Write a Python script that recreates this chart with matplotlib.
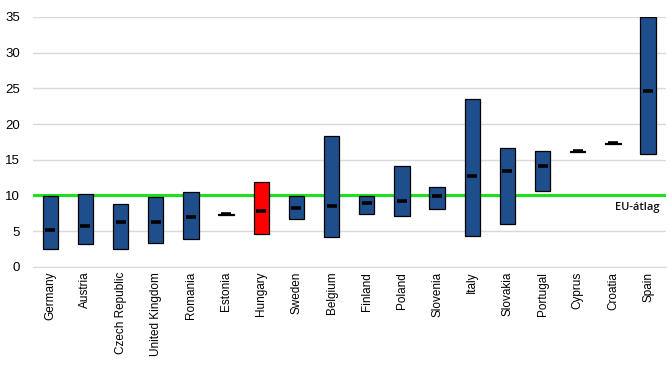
import matplotlib
matplotlib.use("Agg")
import matplotlib.pyplot as plt
import numpy as np

plt.rcParams['font.family'] = ['Liberation Sans', 'DejaVu Sans']

# data
countries = ["Germany", "Austria", "Czech Republic", "United Kingdom", "Romania",
             "Estonia", "Hungary", "Sweden", "Belgium", "Finland", "Poland",
             "Slovenia", "Italy", "Slovakia", "Portugal", "Cyprus", "Croatia", "Spain"]
low = [2.5, 3.2, 2.5, 3.3, 3.9, 7.3, 4.6, 6.7, 4.2, 7.4, 7.2, 8.1, 4.4, 6.0, 10.6, 16.1, 17.2, 15.8]
high = [9.9, 10.2, 8.8, 9.8, 10.5, 7.45, 11.9, 10.0, 18.4, 10.0, 14.1, 11.2, 23.5, 16.6, 16.3, 16.25, 17.35, 35.0]
mean = [5.2, 5.8, 6.3, 6.3, 7.0, 7.4, 7.9, 8.2, 8.6, 8.9, 9.2, 9.9, 12.8, 13.4, 14.1, 16.2, 17.3, 24.6]
eu_avg = 10.05
highlight = "Hungary"

fig = plt.figure(figsize=(6.67, 3.76), dpi=100)
ax = fig.add_axes([0.049, 0.29, 0.949, 0.665])

x = np.arange(len(countries))
colors = ["#ff0000" if c == highlight else "#1f4e8c" for c in countries]
ax.bar(x, np.array(high) - np.array(low), bottom=low, width=0.44,
       color=colors, edgecolor="black", linewidth=0.9, zorder=3)
ax.plot(x, mean, linestyle="none", marker="_", markersize=7, mew=2.6,
        color="black", zorder=4)

ax.axhline(eu_avg, color="#1ee01e", linewidth=2.2, zorder=2)
ax.text(len(countries) - 1.3, eu_avg - 1.7, "EU-átlag", fontsize=8,
        fontweight="semibold", ha="center", va="center",
        family=["Open Sans", "DejaVu Sans"], color="#111111")

ax.set_xlim(-0.5, len(countries) - 0.5)
ax.set_ylim(0, 35)
ax.set_yticks(range(0, 36, 5))
ax.yaxis.grid(True, color="#d9d9d9", linewidth=1)
ax.set_axisbelow(True)
for s in ["top", "right", "left"]:
    ax.spines[s].set_visible(False)
ax.spines["bottom"].set_color("#d9d9d9")
ax.tick_params(axis="both", length=0, labelsize=9.5)
ax.tick_params(axis="y", pad=9)
ax.set_xticks(x)
ax.set_xticklabels(countries, rotation=90, fontsize=8.5)

fig.savefig("out.png", dpi=100)
